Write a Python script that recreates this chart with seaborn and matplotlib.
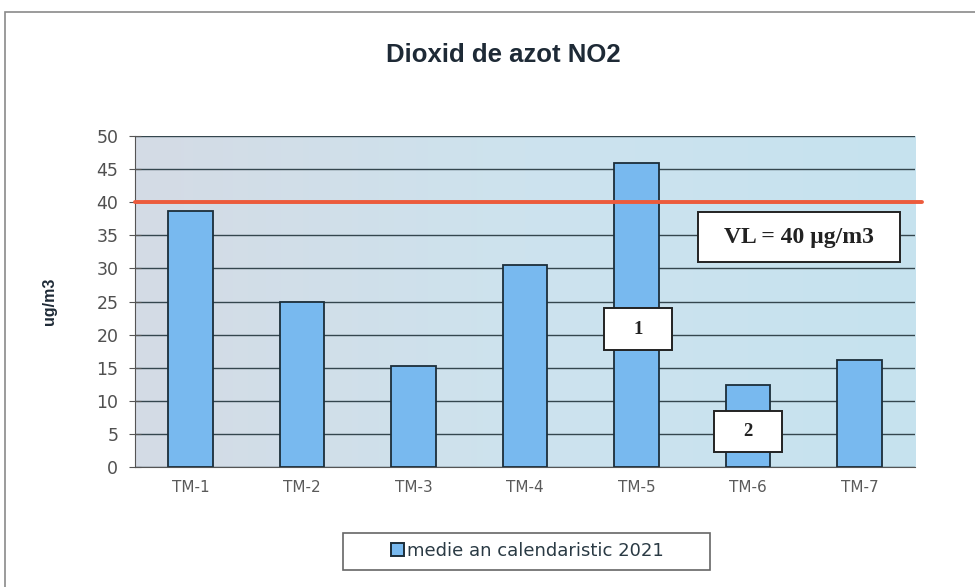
import numpy as np
import pandas as pd
import matplotlib.pyplot as plt
import seaborn as sns
from matplotlib.patches import Rectangle
from matplotlib.colors import LinearSegmentedColormap

stations = ["TM-1", "TM-2", "TM-3", "TM-4", "TM-5", "TM-6", "TM-7"]
no2_mean = [38.7, 25.0, 15.3, 30.5, 45.9, 12.4, 16.2]
limit_value = 40

df = pd.DataFrame({"statie": stations, "medie": no2_mean})

sns.set_style("white")
plt.rcParams["font.family"] = ["Liberation Sans", "DejaVu Sans"]

fig = plt.figure(figsize=(9.75, 5.87), dpi=100)
fig.patch.set_facecolor("white")
# outer chart frame (bottom/right run off the picture)
fig.patches.append(Rectangle((0.0055, -0.1), 1.2, 1.08, transform=fig.transFigure,
                             fill=False, edgecolor="#8a8a8a", linewidth=1.2))

ax = fig.add_axes([0.1385, 0.2044, 0.80, 0.5639])

# soft gradient background of the plot area
bg = LinearSegmentedColormap.from_list("bg", ["#d4dbe5", "#cde3ee", "#c6e2ee"])
grad = np.tile(np.linspace(0, 1, 256), (2, 1))
ax.imshow(grad, cmap=bg, aspect="auto", extent=(-0.5, 6.5, 0, 50), zorder=0)

sns.barplot(data=df, x="statie", y="medie", color="#78b9ef", width=0.4,
            edgecolor="#1c2e3a", linewidth=1.3, saturation=1, ax=ax, zorder=3)

ax.set_ylim(0, 50)
ax.set_xlim(-0.5, len(stations) - 0.5)
ax.set_yticks(range(0, 51, 5))
ax.yaxis.grid(True, color="#34464e", linewidth=1.0)
ax.set_axisbelow(False)
for gl in ax.get_ygridlines():
    gl.set_zorder(1)

for side in ["top", "right"]:
    ax.spines[side].set_visible(False)
ax.spines["left"].set_color("#555555")
ax.spines["bottom"].set_color("#555555")

# tick marks between categories
ax.set_xticks(np.arange(-0.5, len(stations), 1), minor=True)
ax.tick_params(axis="x", which="minor", length=5, color="#555555", direction="out")
ax.tick_params(axis="x", which="major", length=0, labelsize=11, labelcolor="#5a5a5a", pad=9)
ax.tick_params(axis="y", length=8, color="#555555", direction="inout", left=True,
               labelsize=12.5, labelcolor="#505050", pad=8)
for lab in ax.get_xticklabels() + ax.get_yticklabels():
    lab.set_family("DejaVu Sans")

ax.set_xlabel("")
ax.set_ylabel("ug/m3", fontsize=11.5, fontweight="bold", labelpad=28, color="#1e2a36")

ax.axhline(limit_value, xmin=0, xmax=1.009, color="#ec5b3c", linewidth=2.8,
           clip_on=False, zorder=4)

# annotation boxes
ann_style = dict(facecolor="white", edgecolor="#222222", linewidth=1.4, zorder=6)
ax.add_patch(Rectangle((4.552, 30.97), 1.813, 7.55, **ann_style))
ax.add_patch(Rectangle((3.709, 17.67), 0.61, 6.33, **ann_style))
ax.add_patch(Rectangle((4.696, 2.27), 0.61, 6.19, **ann_style))
ax.text(5.46, 34.6, "VL = 40 µg/m3", ha="center", va="center", fontsize=17,
        fontweight="bold", family="Liberation Serif", color="#222222", zorder=7)
ax.text(4.015, 20.8, "1", ha="center", va="center", fontsize=13.5, fontweight="bold",
        family="Liberation Serif", color="#222222", zorder=7)
ax.text(5.0, 5.3, "2", ha="center", va="center", fontsize=13.5, fontweight="bold",
        family="Liberation Serif", color="#222222", zorder=7)

fig.text(0.516, 0.906, "Dioxid de azot NO2", ha="center", va="center", fontsize=18.5,
         fontweight="bold", color="#1e2a36")

# legend with its wide frame
fig.patches.append(Rectangle((343 / 975, 1 - 570 / 587), 367 / 975, 37 / 587,
                             transform=fig.transFigure, facecolor="white",
                             edgecolor="#666666", linewidth=1.2))
handle = Rectangle((0, 0), 1, 1, facecolor="#78b9ef", edgecolor="#1c2e3a", linewidth=1.4)
leg = fig.legend([handle], ["medie an calendaristic 2021"], loc="center",
                 bbox_to_anchor=(0.541, 1 - 551 / 587), frameon=False,
                 prop={"family": "DejaVu Sans", "size": 13}, handlelength=0.7,
                 handleheight=0.7, handletextpad=0.2, borderaxespad=0)
for t in leg.get_texts():
    t.set_color("#2a3a44")

fig.savefig("out.png", dpi=100)
